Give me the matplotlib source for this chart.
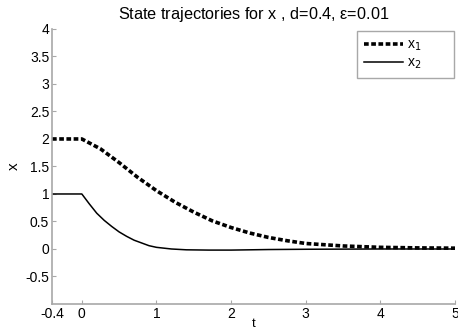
import matplotlib
matplotlib.use("Agg")
import matplotlib.pyplot as plt

plt.rcParams['font.family'] = ['Liberation Sans', 'DejaVu Sans']

# ── data ─────────────────────────────────────────────────────────
t1 = [-0.4, 0, 0.25, 0.5, 0.75, 1.0, 1.25, 1.5, 1.75, 2.0, 2.25, 2.5,
      2.75, 3.0, 3.5, 4.0, 4.5, 5.0]
x1 = [2, 2, 1.82, 1.57, 1.30, 1.06, 0.85, 0.67, 0.51, 0.39, 0.29, 0.21,
      0.15, 0.10, 0.055, 0.03, 0.02, 0.015]

t2 = [-0.4, 0, 0.1, 0.2, 0.3, 0.4, 0.5, 0.6, 0.7, 0.8, 0.9, 1.0, 1.2,
      1.4, 1.7, 2.0, 2.5, 3.0, 4.0, 5.0]
x2 = [1, 1, 0.82, 0.65, 0.52, 0.41, 0.31, 0.23, 0.16, 0.11, 0.06, 0.03,
      0.0, -0.015, -0.02, -0.02, -0.01, -0.005, 0, 0]

xticks = [-0.4, 0, 1, 2, 3, 4, 5]
xticklabels = ["-0.4", "0", "1", "2", "3", "4", "5"]
yticks = [-0.5, 0, 0.5, 1, 1.5, 2, 2.5, 3, 3.5, 4]
yticklabels = ["-0.5", "0", "0.5", "1", "1.5", "2", "2.5", "3", "3.5", "4"]

fig = plt.figure(figsize=(4.58, 3.29), dpi=100)
ax = fig.add_axes([0.1135, 0.076, 0.88, 0.836])

ax.plot(t1, x1, color="black", lw=2.6, ls=(0, (1.3, 0.7)), label=r"x$_1$")
ax.plot(t2, x2, color="black", lw=1.1, label=r"x$_2$")

ax.set_xlim(-0.4, 5)
ax.set_ylim(-1, 4)
ax.set_xticks(xticks)
ax.set_xticklabels(xticklabels)
ax.set_yticks(yticks)
ax.set_yticklabels(yticklabels)

grey = "#a8a8a8"
for s in ("top", "right"):
    ax.spines[s].set_visible(False)
for s in ("left", "bottom"):
    ax.spines[s].set_color(grey)
    ax.spines[s].set_linewidth(1.2)
ax.tick_params(direction="in", length=3, color=grey, labelsize=10,
               labelcolor="black", pad=2)

ax.set_title(r"State trajectories for x , d=0.4, $\mathregular{\varepsilon}$=0.01",
             fontsize=11.7, pad=7)
ax.set_xlabel("t", fontsize=9.5, labelpad=-2)
ax.set_ylabel("x", fontsize=11, labelpad=3)

leg = ax.legend(loc="upper left", bbox_to_anchor=(0.757, 0.0, 0.241, 0.993),
                mode="expand", fontsize=10, fancybox=False, framealpha=1,
                handlelength=2.8, handletextpad=0.3, borderpad=0.5,
                borderaxespad=0.0, labelspacing=0.2)
leg.get_frame().set_edgecolor(grey)
leg.get_frame().set_linewidth(1.0)

fig.savefig("out.png", dpi=100, facecolor="white")
